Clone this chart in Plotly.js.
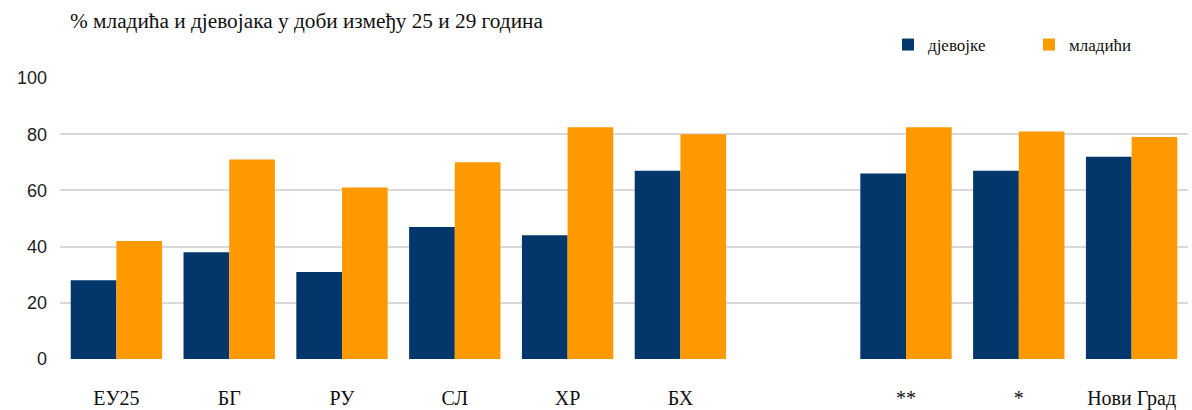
<!DOCTYPE html>
<html>
<head>
<meta charset="utf-8">
<script src="https://cdn.plot.ly/plotly-3.0.1.min.js"></script>
<style>html,body{margin:0;padding:0;background:#fff;}#chart{width:1192px;height:410px;}</style>
</head>
<body>
<div id="chart"></div>
<script>
const categories = ["ЕУ25", "БГ", "РУ", "СЛ", "ХР", "БХ", " ", "**", "*", "Нови Град"];
const djevojke = [28, 38, 31, 47, 44, 67, null, 66, 67, 72];
const mladici = [42, 71, 61, 70, 82.5, 80, null, 82.5, 81, 79];
const seriesNames = ["дјевојке", "младићи"];
const yTicks = [0, 20, 40, 60, 80, 100];

const traces = [
  {type: "bar", x: categories, y: djevojke, name: seriesNames[0], marker: {color: "#03366A"}, hoverinfo: "x+y"},
  {type: "bar", x: categories, y: mladici, name: seriesNames[1], marker: {color: "#FF9900"}, hoverinfo: "x+y"}
];

const layout = {
  width: 1192, height: 410,
  margin: {l: 60, r: 4, t: 78, b: 51},
  paper_bgcolor: "#fff", plot_bgcolor: "#fff",
  barmode: "group", bargap: 0.19, bargroupgap: 0,
  title: {
    text: "% младића и дјевојака у доби између 25 и 29 година",
    font: {family: "Liberation Serif, serif", size: 21.3, color: "#111"},
    xref: "container", yref: "container", x: 70/1192, xanchor: "left", y: 1 - 21/410, yanchor: "middle"
  },
  xaxis: {
    type: "category", showgrid: false, showline: false, ticks: "", zeroline: false,
    tickfont: {family: "Liberation Serif, serif", size: 20, color: "#111"},
    ticklabelstandoff: 25
  },
  yaxis: {
    range: [0, 100], tickvals: yTicks, ticktext: yTicks.map(String),
    showgrid: true, gridcolor: "#D9D9D9", gridwidth: 2, zeroline: false, showline: false, ticks: "",
    tickfont: {family: "Liberation Sans, Arial, sans-serif", size: 18, color: "#222"},
    ticklabelstandoff: 12
  },
  showlegend: true,
  legend: {
    orientation: "h", xref: "container", yref: "container",
    x: 888/1192, xanchor: "left", y: 1 - 45/410, yanchor: "middle",
    font: {family: "Liberation Serif, serif", size: 17, color: "#111"},
    entrywidth: 96, entrywidthmode: "pixels", bgcolor: "rgba(0,0,0,0)"
  }
};

Plotly.newPlot("chart", traces, layout, {displayModeBar: false, staticPlot: true});
</script>
</body>
</html>
